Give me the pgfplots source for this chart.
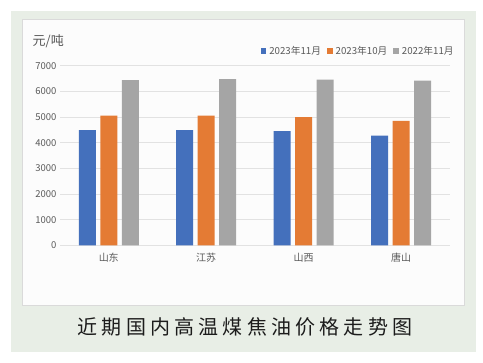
\documentclass[border=0pt]{standalone}
\usepackage{pgfplots}
\pgfplotsset{compat=1.18}
\usepackage{fontspec}
\setmainfont{Noto Sans CJK SC}
\newfontfamily\titlefont[LetterSpace=21]{Noto Sans CJK SC}
\definecolor{bggreen}{HTML}{E8EEE6}
\definecolor{cardborder}{HTML}{DADADA}
\definecolor{gridc}{HTML}{E2E2E2}
\definecolor{tickc}{HTML}{595959}
\definecolor{titlec}{HTML}{1C1C1C}
\definecolor{cblue}{HTML}{4470BC}
\definecolor{corange}{HTML}{E47B34}
\definecolor{cgray}{HTML}{A5A5A5}
\begin{document}
\begin{tikzpicture}[x=1pt,y=1pt]
\fill[white] (0pt,0pt) rectangle (483pt,363pt);
\fill[bggreen] (11pt,11.3pt) rectangle (476pt,352pt);
\fill[white!99!black] (22pt,58pt) rectangle (464pt,344pt);
\draw[cardborder,line width=0.6pt] (22pt,58pt) rectangle (464pt,344pt);
\node[font=\titlefont\fontsize{20}{20}\selectfont, text=titlec] at (245pt,36pt) {近期国内高温煤焦油价格走势图};
\node[anchor=west, font=\fontsize{13}{13}\selectfont, text=tickc, inner sep=0pt] at (32.5pt,321.5pt) {元/吨};
\begin{axis}[
  at={(60pt,117.7pt)}, anchor=south west,
  scale only axis, width=390pt, height=179.6pt,
  xmin=-0.5, xmax=3.5, ymin=0, ymax=7000,
  xtick={0,1,2,3}, xticklabels={山东,江苏,山西,唐山},
  ytick={0,1000,...,7000},
  ymajorgrids, grid style={gridc, line width=0.8pt},
  axis x line*=bottom, axis y line*=left,
  x axis line style={draw=gridc, line width=0.8pt, -},
  y axis line style={draw=none},
  major tick length=0pt,
  tick label style={text=tickc},
  yticklabel style={font=\fontsize{9.5}{10}\selectfont},
  xticklabel style={font=\fontsize{10}{10}\selectfont, yshift=-4pt},
  /pgf/number format/assume math mode=true,
  /pgf/number format/1000 sep={},
  scaled y ticks=false,
  legend columns=3,
  legend style={at={(1.015,1.082)}, anchor=east, draw=none, fill=none,
    font=\fontsize{9.7}{10}\selectfont, text=tickc, inner sep=0pt,
    /tikz/every even column/.append style={column sep=4pt},
    /tikz/every odd column/.append style={column sep=1pt}},
  clip=false,
]
\addplot[ybar, bar width=17pt, bar shift=-21.5pt, fill=cblue, draw=none,
  legend image code/.code={\fill[cblue] (0pt,-2.8pt) rectangle (5.6pt,2.8pt);}]
  coordinates {(0,4490) (1,4490) (2,4450) (3,4275)};
\addplot[ybar, bar width=17pt, bar shift=0pt, fill=corange, draw=none,
  legend image code/.code={\fill[corange] (0pt,-2.8pt) rectangle (5.6pt,2.8pt);}]
  coordinates {(0,5050) (1,5050) (2,5000) (3,4850)};
\addplot[ybar, bar width=17pt, bar shift=21.5pt, fill=cgray, draw=none,
  legend image code/.code={\fill[cgray] (0pt,-2.8pt) rectangle (5.6pt,2.8pt);}]
  coordinates {(0,6435) (1,6475) (2,6460) (3,6420)};
\legend{2023年11月,2023年10月,2022年11月}
\end{axis}
\end{tikzpicture}
\end{document}
